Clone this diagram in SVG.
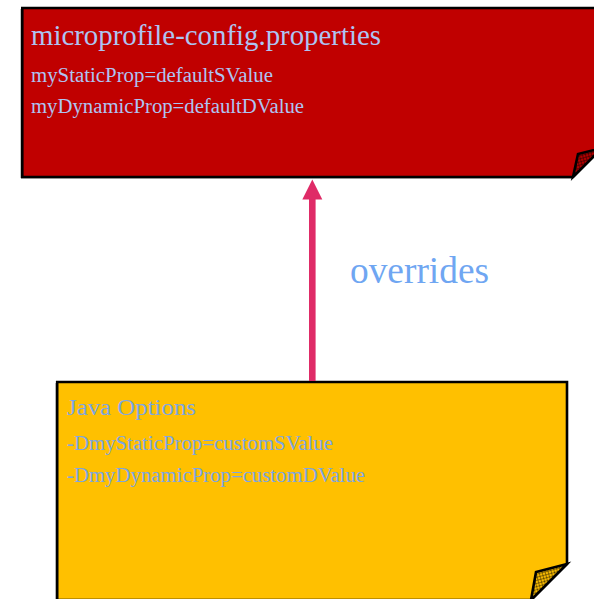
<svg xmlns="http://www.w3.org/2000/svg" width="594" height="599" viewBox="0 0 594 599">
<style>
.box{stroke:#000;stroke-width:2.6;stroke-linejoin:miter}
.shadow{fill:none;stroke:#888;stroke-width:1}
.t{font-family:"Liberation Serif","Times New Roman",serif}
.rt{fill:#aec4f2}
.yt{fill:#7ca6e2}
.conn{stroke:#df2b67;fill:#df2b67}
</style>
<defs>
<pattern id="hatchR" width="3" height="3" patternUnits="userSpaceOnUse" patternTransform="rotate(-15)">
<rect width="3" height="3" fill="#b00000"/>
<path d="M0,0H3M0,0V3" stroke="#000" stroke-width="0.8"/>
</pattern>
<pattern id="hatchY" width="3" height="3" patternUnits="userSpaceOnUse" patternTransform="rotate(-15)">
<rect width="3" height="3" fill="#f5b800"/>
<path d="M0,0H3M0,0V3" stroke="#000" stroke-width="0.8"/>
</pattern>
</defs>
<g id="node-properties">
<path class="shadow" d="M21,9 V178 H573"/>
<path class="box" fill="#c00000" d="M22.3,8 H602 V148 L573,177 H22.3 Z"/>
<path class="box" fill="url(#hatchR)" d="M573,177 L578,154 L602,148 Z"/>
<text class="t rt" x="31" y="45" font-size="29" textLength="350" lengthAdjust="spacingAndGlyphs">microprofile-config.properties</text>
<text class="t rt" x="31" y="82" font-size="20" textLength="242" lengthAdjust="spacingAndGlyphs">myStaticProp=defaultSValue</text>
<text class="t rt" x="31" y="113" font-size="20" textLength="273" lengthAdjust="spacingAndGlyphs">myDynamicProp=defaultDValue</text>
</g>
<g id="node-javaoptions">
<path class="shadow" d="M56,383 V600"/>
<path class="box" fill="#ffc000" d="M57.2,382 H567 V564 L531,600 H57.2 Z"/>
<path class="box" fill="url(#hatchY)" d="M567,564 L536,572 L531,600 Z"/>
<text class="t yt" x="67" y="415" font-size="24" textLength="129" lengthAdjust="spacingAndGlyphs">Java Options</text>
<text class="t yt" x="67" y="450" font-size="20" textLength="266" lengthAdjust="spacingAndGlyphs">-DmyStaticProp=customSValue</text>
<text class="t yt" x="67" y="482" font-size="20" textLength="298" lengthAdjust="spacingAndGlyphs">-DmyDynamicProp=customDValue</text>
</g>
<g id="connectors">
<line class="conn" x1="312.3" y1="381" x2="312.3" y2="198" stroke-width="6.6"/>
<polygon class="conn" stroke-width="0" points="302.3,199.5 312.3,179.5 322.3,199.5"/>
<text class="t" x="350" y="283" font-size="37" fill="#6fa6f2" textLength="139" lengthAdjust="spacingAndGlyphs">overrides</text>
</g>
</svg>
